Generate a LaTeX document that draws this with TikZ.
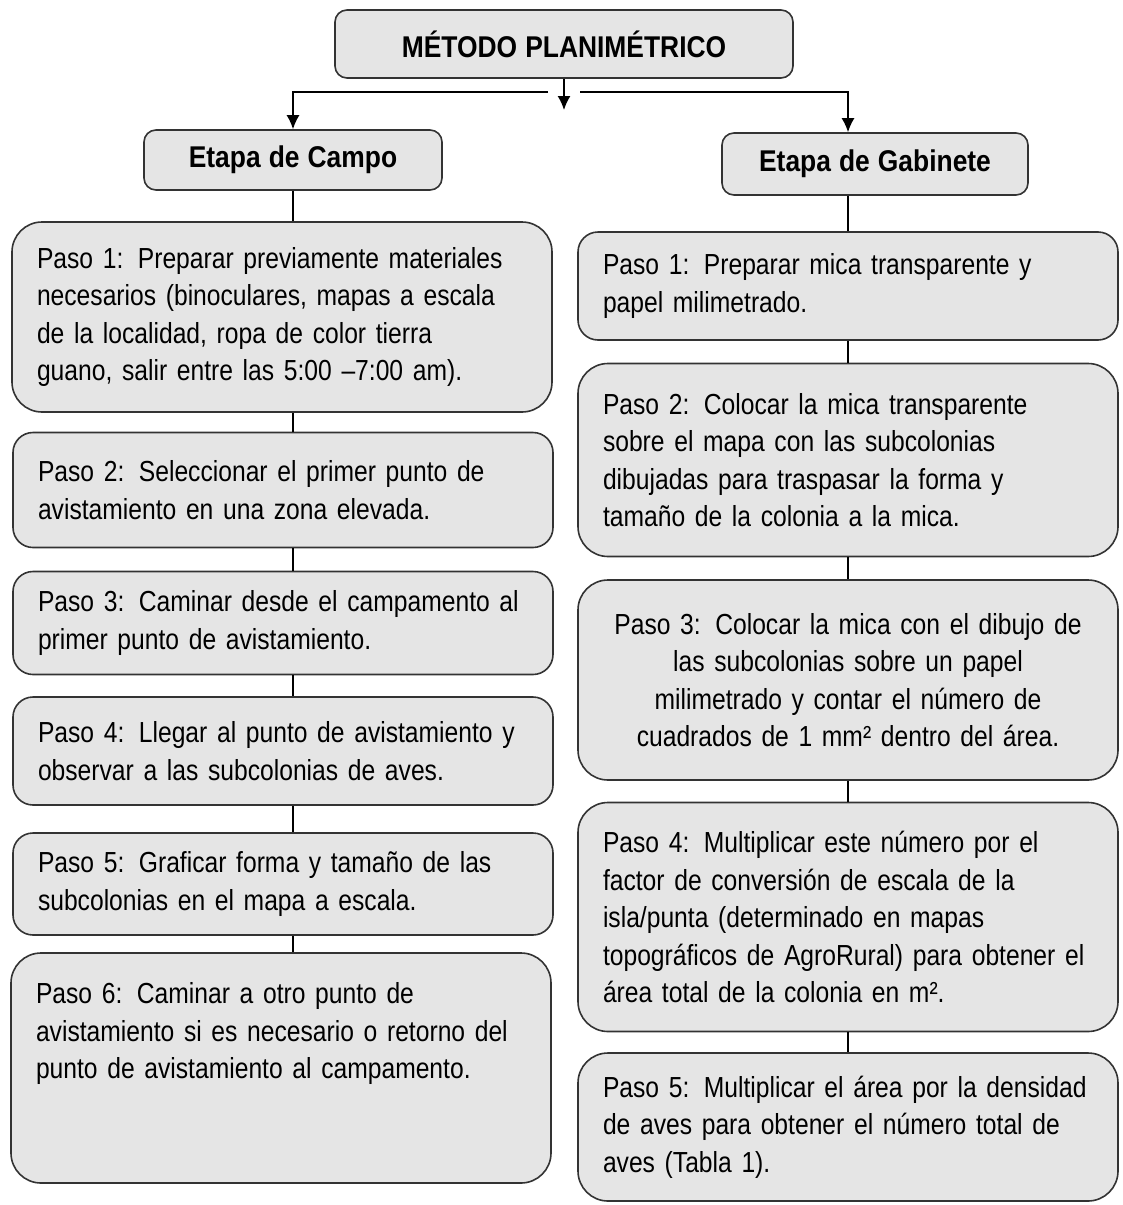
\documentclass[tikz,border=0pt]{standalone}
\usepackage{fontspec}
\setmainfont[FakeStretch=0.85,WordSpace=0.65]{Liberation Sans}
\newfontfamily\headfont[FakeStretch=0.88,WordSpace=1.1]{Liberation Sans}
\usetikzlibrary{arrows.meta}

\begin{document}
\begin{tikzpicture}[
    x=1pt,y=-1pt,
    line width=1.6pt,
    every node/.style={font=\fontsize{29}{37.5}\selectfont},
    box/.style={draw=black!80,fill=black!10,rounded corners=20pt,inner xsep=25pt,
        inner ysep=0pt,align=left,text width=490pt},
    head/.style={draw=black!80,fill=black!10,rounded corners=12pt,inner sep=0pt,
        font=\headfont\fontsize{30}{34}\selectfont\bfseries},
    arr/.style={-{Latex[length=14pt,width=13pt]}}
]
\useasboundingbox (0,0) rectangle (1122,1205);

\node[head,minimum width=458pt,minimum height=68pt] (metodo) at (564,44) {MÉTODO PLANIMÉTRICO};
\node[head,minimum width=298pt,minimum height=60pt] (campo) at (293,160) {Etapa de Campo};
\node[head,minimum width=306pt,minimum height=62pt] (gab) at (875,164) {Etapa de Gabinete};

\coordinate (mid) at (564,110);
\coordinate (gapL) at (548,92);
\coordinate (gapR) at (580,92);

% etapa de campo
\node[box,rounded corners=30pt,minimum height=190pt] (l1) at (282,317) {Paso 1: Preparar previamente materiales\\
necesarios (binoculares, mapas a escala\\ de la localidad, ropa de color tierra\\ guano, salir entre las 5:00 –7:00 am).};
\node[box,minimum height=115pt] (l2) at (283,490) {Paso 2:  Seleccionar el primer punto de\\ avistamiento en una zona elevada.};
\node[box,minimum height=103pt] (l3) at (283,623) {Paso 3:  Caminar desde el campamento al\\ primer punto de avistamiento.};
\node[box,minimum height=108pt] (l4) at (283,751) {Paso 4:  Llegar al punto de avistamiento y\\ observar a las subcolonias de aves.};
\node[box,minimum height=102pt] (l5) at (283,884) {Paso 5:  Graficar forma y tamaño  de las\\ subcolonias en el mapa a escala.};
\node[box,rounded corners=30pt,minimum height=230pt] (l6) at (281,1068) {Paso 6:  Caminar a otro punto de\\
avistamiento si es necesario o retorno del\\ punto de avistamiento al campamento.\\ ~\\ ~};

% etapa de gabinete
\node[box,minimum height=108pt] (r1) at (848,286) {Paso 1:  Preparar mica transparente y\\ papel milimetrado.};
\node[box,rounded corners=30pt,minimum height=193pt] (r2) at (848,460) {Paso 2:  Colocar la mica transparente\\
sobre el mapa con las subcolonias\\ dibujadas para traspasar la forma y\\ tamaño de la colonia a la mica.};
\node[box,rounded corners=30pt,minimum height=200pt,align=center] (r3) at (848,680) {Paso 3: Colocar la mica con el dibujo de\\
las subcolonias sobre un papel\\ milimetrado y contar el número de\\ cuadrados de 1 mm² dentro del área.};
\node[box,rounded corners=30pt,minimum height=229pt] (r4) at (848,917) {Paso 4:  Multiplicar este número por el\\
factor de conversión de escala de la\\ isla/punta (determinado en mapas\\ topográficos de AgroRural) para obtener el\\
área total de la colonia en m².};
\node[box,rounded corners=30pt,minimum height=148pt] (r5) at (848,1127) {Paso 5:  Multiplicar el área por la densidad\\
de aves para obtener el número total de\\ aves (Tabla 1).};

\draw[arr] (metodo.south) -- (mid);
\draw[arr] (gapL) -| (campo.north);
\draw[arr] (gapR) -| (r1.north |- gab.north);

\draw (campo.south) -- (campo.south |- l1.north);
\draw (l1.south -| campo) -- (l2.north -| campo);
\draw (l2.south -| campo) -- (l3.north -| campo);
\draw (l3.south -| campo) -- (l4.north -| campo);
\draw (l4.south -| campo) -- (l5.north -| campo);
\draw (l5.south -| campo) -- (l6.north -| campo);

\draw (r1.north |- gab.south) -- (r1.north);
\draw (r1.south) -- (r2.north);
\draw (r2.south) -- (r3.north);
\draw (r3.south) -- (r4.north);
\draw (r4.south) -- (r5.north);

\end{tikzpicture}
\end{document}
